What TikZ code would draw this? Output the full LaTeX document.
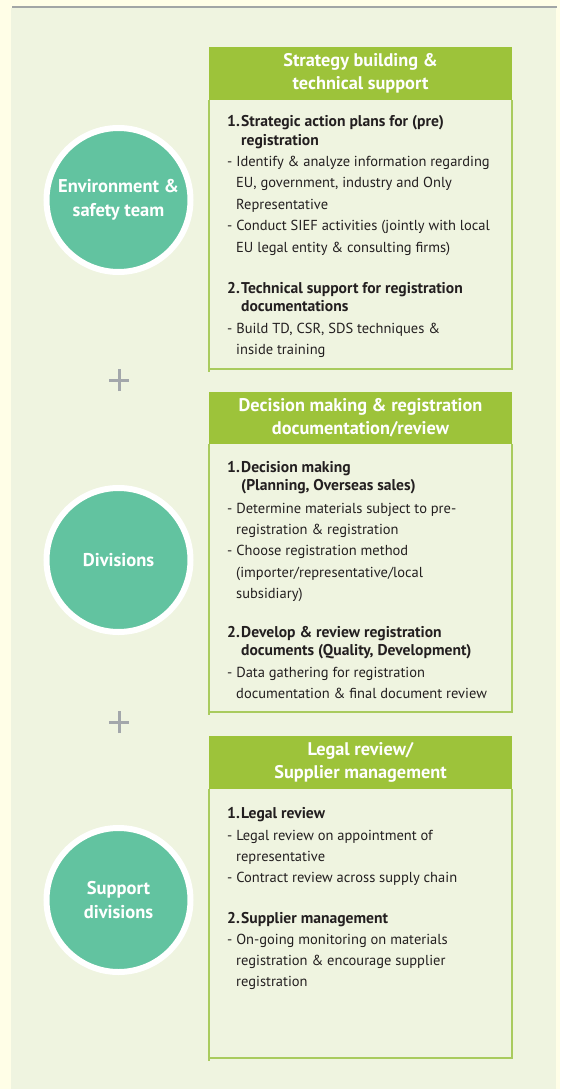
\documentclass[tikz,border=0pt]{standalone}
\usepackage{fontspec}
\setmainfont{PT Sans}
\definecolor{outerbg}{HTML}{FFFEE7}
\definecolor{panelbg}{HTML}{EFF4E0}
\definecolor{topline}{HTML}{A2A6A6}
\definecolor{hdrgreen}{HTML}{9DC33A}
\definecolor{boxline}{HTML}{A9CB5E}
\definecolor{circgreen}{HTML}{62C3A0}
\definecolor{plusgray}{HTML}{A3A7AB}
\definecolor{bodytext}{HTML}{231F20}
\newcommand{\hd}[1]{\makebox[14pt][l]{#1}}
\newcommand{\ind}{\hspace*{14pt}}
\newcommand{\bi}{\hspace*{9pt}}
\begin{document}
\begin{tikzpicture}[x=1pt,y=-1pt,
  hdrbox/.style={fill=hdrgreen,draw=none},
  outline/.style={draw=boxline,line width=1.3pt},
  hdrtext/.style={text=white,font=\bfseries\fontsize{18.3}{23}\selectfont,align=center,inner sep=0pt},
  headtext/.style={text=bodytext,font=\bfseries\fontsize{15.6}{18.8}\selectfont,align=left,inner sep=0pt,anchor=base west},
  listtext/.style={text=bodytext,font=\fontsize{14.5}{21.4}\selectfont,align=left,inner sep=0pt,anchor=base west},
  circ/.style={circle,fill=circgreen,draw=white,line width=6pt,minimum size=144pt,inner sep=0pt,
     text=white,font=\bfseries\fontsize{18.5}{24.5}\selectfont,align=center},
  plus/.style={draw=plusgray,line width=3pt}
]
\useasboundingbox (0,0) rectangle (560,1089);
\fill[outerbg] (0,0) rectangle (560,1089);
\fill[panelbg] (11,8) rectangle (556,1089);
\draw[topline,line width=2.5pt] (12,7) -- (557,7);

% (multi-line nodes are anchored at the baseline of their last line)
% ---- Box 1
\fill[hdrbox] (209,47) rectangle (512,100);
\draw[outline] (209,100) -- (209,372) (208,369) -- (512,369) -- (512,100);
\node[hdrtext] (h1) at (360.5,73.5) {Strategy building \&\\technical support};
\node[headtext] (a1) at (227,145.8) {\hd{1.}Strategic action plans for (pre)\\\ind registration};
\node[listtext] (a1l) at (227,252.1) {- Identify \& analyze information regarding\\\bi EU, government, industry and Only\\\bi Representative\\- Conduct SIEF activities (jointly with local\\\bi EU legal entity \& consulting firms)};
\node[headtext] (a2) at (227,311.8) {\hd{2.}Technical support for registration\\\ind documentations};
\node[listtext] (a2l) at (227,354.4) {- Build TD, CSR, SDS techniques \&\\\bi inside training};

% ---- Box 2
\fill[hdrbox] (209,392) rectangle (512,444);
\draw[outline] (209,444) -- (209,715) (208,712) -- (512,712) -- (512,444);
\node[hdrtext] (h2) at (360.5,418) {Decision making \& registration\\documentation/review};
\node[headtext] (b1) at (227,490.8) {\hd{1.}Decision making\\\ind (Planning, Overseas sales)};
\node[listtext] (b1l) at (227,598.6) {- Determine materials subject to pre-\\\bi registration \& registration\\- Choose registration method\\\bi (importer/representative/local\\\bi subsidiary)};
\node[headtext] (b2) at (227,655.8) {\hd{2.}Develop \& review registration\\\ind documents (Quality, Development)};
\node[listtext] (b2l) at (227,698.4) {- Data gathering for registration\\\bi documentation \& final document review};

% ---- Box 3
\fill[hdrbox] (209,736) rectangle (512,789);
\draw[outline] (209,789) -- (209,1061) (208,1058) -- (512,1058) -- (512,789);
\node[hdrtext] (h3) at (360.5,762.5) {Legal review/\\Supplier management};
\node[headtext] (c1) at (227,818) {\hd{1.}Legal review};
\node[listtext] (c1l) at (227,882.8) {- Legal review on appointment of\\\bi representative\\- Contract review across supply chain};
\node[headtext] (c2) at (227,923) {\hd{2.}Supplier management};
\node[listtext] (c2l) at (227,986.8) {- On-going monitoring on materials\\\bi registration \& encourage supplier\\\bi registration};

% ---- Circles
\node[circ] (e1) at (118.5,200) {Environment \&\\safety team};
\node[circ] (e2) at (118.5,560) {Divisions};
\node[circ] (e3) at (118.5,900) {Support\\divisions};

% ---- Plus signs
\coordinate (p1) at (119,380);
\coordinate (p2) at (119,722);
\draw[plus] ([xshift=-10pt]p1) -- ([xshift=10pt]p1) ([yshift=-11pt]p1) -- ([yshift=11pt]p1);
\draw[plus] ([xshift=-10pt]p2) -- ([xshift=10pt]p2) ([yshift=-11pt]p2) -- ([yshift=11pt]p2);
\end{tikzpicture}
\end{document}
